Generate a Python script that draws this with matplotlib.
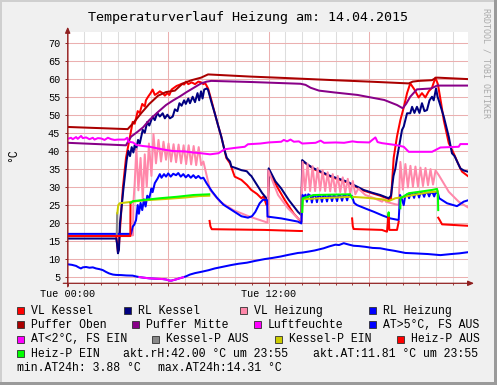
import numpy as np
import matplotlib
matplotlib.use("Agg")
import matplotlib.pyplot as plt
from matplotlib.patches import Rectangle

W, H = 497, 385
nan = np.nan

# ── data: (hour of day, °C) ──────────────────────────────────────────────────
VL_KESSEL = [(0, 16.3), (2.9, 16.3), (2.95, 14.0), (3.0, 11.8), (3.05, 13.0), (3.15, 20.0),
             (3.3, 30.0), (3.48, 38.0), (3.68, 43.0), (3.88, 48.0), (4.0, 47.5), (4.18, 51.0),
             (4.3, 50.5), (4.45, 53.0), (4.6, 52.3), (4.67, 54.0), (4.8, 55.0), (4.95, 56.0),
             (5.07, 57.0), (5.2, 55.5), (5.37, 56.0), (5.5, 56.5), (5.67, 56.0), (5.8, 55.3),
             (5.95, 56.0), (6.07, 55.5), (6.2, 57.0), (6.35, 57.5), (6.5, 58.0), (6.67, 58.3),
             (6.8, 58.6), (6.95, 58.4), (7.07, 59.2), (7.2, 58.5), (7.4, 59.0), (7.6, 58.5),
             (7.8, 59.2), (7.96, 59.0), (8.1, 58.5), (8.2, 58.8), (8.3, 58.0), (8.38, 57.3),
             (8.58, 54.0), (8.78, 50.4), (8.98, 47.0), (9.17, 43.9), (9.47, 38.0), (9.69, 36.5),
             (9.97, 32.8), (10.37, 31.9), (10.7, 30.5), (10.96, 29.1), (11.3, 28.0), (11.56, 26.8),
             (11.7, 27.3), (11.86, 25.0), (11.95, 24.9), (12.0, 34.5), (12.5, 30.0), (12.96, 26.3),
             (13.5, 22.5), (13.75, 21.2), (13.95, 20.3), (14.0, 37.2), (14.69, 34.9), (15.68, 32.8),
             (16.68, 31.2), (17.67, 28.9), (18.66, 27.5), (19.16, 26.6), (19.3, 26.7), (19.35, 30.0),
             (19.46, 38.0), (19.66, 44.0), (19.86, 48.5), (20.06, 52.0), (20.26, 56.0), (20.45, 58.7),
             (20.7, 57.0), (20.95, 54.8), (21.15, 56.0), (21.35, 54.8), (21.55, 56.5), (21.75, 57.5),
             (21.95, 60.3), (22.1, 58.5), (22.3, 53.0), (22.45, 48.5), (22.75, 42.1), (23.04, 39.3),
             (23.3, 36.5), (23.54, 34.2), (23.88, 33.0)]

RL_KESSEL = [(0, 15.6), (2.9, 15.6), (2.95, 14.0), (3.0, 11.5), (3.06, 12.5), (3.12, 19.8),
             (3.32, 29.1), (3.52, 37.4), (3.62, 40.0), (3.72, 38.5), (3.82, 41.0), (3.92, 39.5),
             (4.0, 41.6), (4.08, 40.2), (4.2, 43.0), (4.3, 42.0), (4.48, 45.8), (4.6, 45.0),
             (4.75, 48.0), (4.87, 47.0), (5.07, 49.5), (5.2, 48.5), (5.35, 50.5), (5.5, 49.5),
             (5.67, 50.4), (5.8, 49.0), (5.95, 50.0), (6.1, 49.0), (6.27, 49.5), (6.4, 51.5),
             (6.55, 51.0), (6.67, 53.2), (6.8, 52.5), (6.95, 54.0), (7.05, 53.0), (7.2, 54.5),
             (7.3, 53.2), (7.46, 55.0), (7.6, 53.5), (7.75, 56.0), (7.85, 54.0), (7.96, 56.5),
             (8.05, 54.5), (8.15, 57.0), (8.3, 57.3), (8.38, 56.9), (8.58, 53.5), (8.78, 50.4),
             (8.98, 47.0), (9.17, 43.9), (9.37, 40.0), (9.5, 38.0), (9.69, 37.0), (9.77, 35.6),
             (10.09, 35.1), (10.37, 34.6), (10.69, 34.3), (10.88, 33.3), (10.96, 33.0), (11.3, 30.5),
             (11.6, 28.3), (11.95, 26.3), (12.0, 35.1), (12.4, 31.5), (12.75, 29.5), (13.2, 26.3),
             (13.75, 23.0), (13.95, 22.1), (14.0, 37.4), (14.3, 36.2), (14.69, 35.1), (15.2, 34.0),
             (15.68, 33.0), (16.2, 32.2), (16.68, 31.4), (17.2, 30.2), (17.67, 29.1), (18.2, 28.3),
             (18.66, 27.7), (19.16, 26.8), (19.3, 27.5), (19.45, 33.0), (19.56, 35.0), (19.66, 38.0),
             (19.96, 45.8), (20.06, 46.7), (20.26, 50.4), (20.45, 50.4), (20.56, 52.2), (20.7, 50.5),
             (20.85, 52.2), (21.0, 50.5), (21.15, 53.2), (21.3, 51.0), (21.45, 51.3), (21.6, 54.0),
             (21.75, 55.0), (21.85, 54.0), (21.99, 57.3), (22.08, 55.0), (22.18, 53.6), (22.45, 49.5),
             (22.75, 43.9), (22.94, 39.3), (23.1, 38.5), (23.44, 35.1), (23.65, 34.5), (23.88, 34.2)]

VL_HEIZUNG = [(0, 16.3), (3.9, 16.5), (3.92, 25.4), (4.0, 31.0), (4.1, 40.5), (4.22, 29.0),
              (4.35, 38.0), (4.48, 26.5), (4.6, 39.0), (4.72, 30.0), (4.85, 42.0), (5.0, 33.0),
              (5.12, 44.6), (5.27, 36.5), (5.42, 43.0), (5.57, 37.0), (5.72, 42.5), (5.87, 37.5),
              (6.02, 42.0), (6.17, 37.0), (6.32, 41.8), (6.47, 36.8), (6.62, 41.7), (6.77, 36.5),
              (6.92, 41.5), (7.07, 36.3), (7.22, 41.5), (7.37, 36.2), (7.52, 41.3), (7.67, 36.0),
              (7.82, 41.0), (7.97, 36.0), (8.1, 37.0), (8.2, 35.0), (8.5, 29.1), (9.09, 25.85),
              (9.89, 23.5), (10.88, 21.65), (11.76, 20.3), (11.93, 20.0), (11.98, 34.5), (12.56, 27.7),
              (13.15, 24.0), (13.75, 21.2), (13.95, 20.7), (14.02, 36.9), (14.17, 29.0), (14.32, 36.4),
              (14.47, 28.8), (14.62, 35.7), (14.77, 28.8), (14.92, 35.2), (15.07, 28.9), (15.22, 34.6),
              (15.37, 28.8), (15.52, 34.0), (15.67, 28.7), (15.82, 33.5), (15.97, 28.6), (16.12, 33.0),
              (16.27, 28.5), (16.42, 32.6), (16.57, 28.3), (16.72, 32.2), (16.87, 28.1), (17.02, 31.6),
              (17.17, 27.9), (17.35, 29.5), (17.77, 27.7), (18.3, 26.8), (18.77, 25.85), (18.9, 26.6),
              (19.0, 25.8), (19.5, 25.2), (19.76, 24.9), (19.86, 36.9), (20.01, 29.2), (20.16, 36.3),
              (20.31, 29.8), (20.46, 35.8), (20.61, 30.0), (20.76, 35.6), (20.91, 30.1), (21.06, 35.3),
              (21.21, 30.2), (21.36, 35.2), (21.51, 30.4), (21.66, 34.9), (21.81, 30.6), (21.96, 34.5),
              (22.15, 33.25), (22.75, 28.6), (23.34, 25.85), (23.88, 24.3)]

RL_HEIZUNG = [(0, 16.9), (3.78, 16.9), (3.88, 18.9), (3.98, 19.5), (4.08, 20.75), (4.18, 24.9),
              (4.25, 22.5), (4.35, 25.5), (4.45, 23.5), (4.55, 26.5), (4.65, 24.5), (4.75, 27.5),
              (4.87, 26.8), (5.0, 29.5), (5.07, 28.5), (5.2, 31.0), (5.37, 32.3), (5.5, 33.5),
              (5.6, 32.5), (5.75, 33.5), (5.87, 32.8), (6.0, 33.7), (6.15, 32.8), (6.3, 33.6),
              (6.47, 33.2), (6.6, 33.8), (6.75, 32.8), (6.9, 33.5), (7.05, 32.6), (7.2, 33.3),
              (7.35, 32.5), (7.5, 33.2), (7.65, 32.4), (7.8, 33.0), (7.95, 32.3), (8.1, 32.5),
              (8.3, 30.9), (8.6, 28.8), (8.9, 27.0), (9.3, 25.0), (9.7, 23.8), (10.37, 21.8),
              (10.76, 21.4), (11.0, 21.8), (11.2, 23.0), (11.46, 25.4), (11.66, 26.4), (11.9, 26.3),
              (11.93, 21.7), (12.75, 21.2), (13.75, 20.3), (13.95, 19.8), (14.02, 27.7), (14.1, 27.3),
              (14.2, 27.8), (14.28, 25.8), (14.36, 27.9), (14.5, 27.5), (14.58, 25.6), (14.66, 27.6),
              (14.8, 27.4), (14.88, 25.7), (14.96, 27.6), (15.1, 27.3), (15.18, 25.8), (15.26, 27.6),
              (15.4, 27.4), (15.48, 25.9), (15.56, 27.5), (15.7, 27.4), (15.78, 26.0), (15.86, 27.5),
              (16.0, 27.3), (16.08, 26.0), (16.16, 27.6), (16.3, 27.4), (16.38, 26.1), (16.46, 27.6),
              (16.6, 27.5), (16.68, 26.2), (16.76, 27.6), (16.97, 27.4), (17.1, 25.5), (17.27, 24.9),
              (17.8, 23.9), (18.27, 23.05), (18.8, 22.0), (19.26, 21.2), (19.76, 20.75), (19.84, 27.7),
              (19.95, 26.5), (20.06, 24.9), (20.15, 27.5), (20.3, 28.0), (20.38, 26.8), (20.46, 28.2),
              (20.6, 28.0), (20.68, 26.9), (20.76, 28.3), (20.9, 28.1), (20.98, 27.0), (21.06, 28.3),
              (21.2, 28.1), (21.28, 27.2), (21.36, 28.4), (21.5, 28.2), (21.58, 27.3), (21.66, 28.4),
              (21.8, 28.2), (21.88, 27.3), (21.96, 28.4), (22.1, 28.2), (22.18, 26.8), (22.65, 25.4),
              (23.24, 24.6), (23.64, 25.85), (23.88, 26.2)]

PUFFER_OBEN = [(0, 46.6), (3.58, 46.0), (3.72, 46.7), (3.9, 47.6), (4.4, 50.5), (4.87, 53.0),
               (5.4, 55.3), (5.87, 56.3), (6.4, 56.7), (6.87, 58.7), (7.4, 59.6), (7.96, 60.3),
               (8.38, 61.2), (10.9, 60.6), (13.0, 60.2), (15.9, 59.6), (18.0, 59.2), (20.36, 58.7),
               (20.6, 59.2), (20.95, 59.4), (21.75, 59.6), (22.0, 60.3), (22.1, 60.3), (23.88, 59.9)]

PUFFER_MITTE = [(0, 42.2), (3.48, 41.5), (3.6, 42.5), (3.78, 43.9), (4.18, 45.3), (4.5, 46.5),
                (4.87, 48.5), (5.4, 50.8), (5.87, 52.7), (6.3, 54.0), (6.67, 55.0), (7.1, 56.3),
                (7.46, 57.3), (7.96, 58.7), (8.3, 59.2), (8.57, 59.4), (10.9, 59.1), (13.9, 58.6),
                (14.2, 58.3), (14.5, 57.5), (15.0, 56.7), (15.9, 56.2), (17.3, 55.5), (18.9, 54.1),
                (19.66, 52.7), (20.0, 51.8), (20.2, 53.0), (20.45, 55.0), (20.85, 57.05), (21.7, 57.3),
                (22.05, 58.1), (23.88, 58.1)]

LUFTFEUCHTE = [(0, 43.3), (0.2, 43.6), (0.3, 43.2), (0.5, 43.8), (0.6, 43.3), (0.8, 44.1),
               (0.9, 43.5), (1.1, 43.7), (1.3, 43.2), (1.5, 43.6), (1.6, 43.1), (1.8, 43.5),
               (2.0, 43.4), (2.2, 43.0), (2.4, 43.6), (2.6, 43.2), (2.8, 43.0), (3.0, 43.1),
               (3.4, 43.1), (3.55, 43.6), (3.62, 42.5), (3.9, 42.3), (4.1, 41.6), (4.5, 41.3),
               (4.9, 41.1), (5.3, 40.7), (5.87, 40.2), (6.3, 39.9), (7.0, 39.8), (7.5, 39.5),
               (7.96, 39.3), (8.5, 39.0), (9.0, 39.3), (9.37, 40.4), (10.0, 40.8), (10.57, 41.1),
               (10.76, 41.8), (11.5, 42.0), (12.0, 42.3), (12.75, 42.5), (12.9, 43.0), (13.1, 42.6),
               (13.3, 43.1), (13.5, 42.5), (13.8, 42.6), (14.0, 42.0), (14.8, 42.2), (15.1, 42.8),
               (15.3, 42.2), (16.0, 42.3), (16.5, 42.2), (17.0, 42.6), (17.3, 42.4), (18.0, 42.3),
               (18.37, 43.7), (18.5, 42.4), (18.77, 42.1), (19.56, 41.6), (20.06, 41.1), (20.36, 39.7),
               (21.75, 39.7), (22.25, 40.9), (23.34, 41.1), (23.44, 41.85), (23.88, 41.85)]

AUSSEN = [(0, 8.45), (0.25, 8.3), (0.5, 8.0), (0.65, 7.6), (0.79, 7.3), (0.9, 7.6), (1.1, 7.7),
          (1.3, 7.5), (1.5, 7.6), (1.69, 7.3), (1.9, 7.1), (2.09, 6.85), (2.3, 6.3), (2.48, 5.9),
          (2.7, 5.6), (2.88, 5.5), (3.2, 5.45), (3.5, 5.35), (3.88, 5.3), (4.1, 5.05), (4.28, 4.9),
          (4.5, 4.75), (4.87, 4.55), (5.2, 4.45), (5.67, 4.35), (5.9, 4.2), (6.05, 3.95), (6.17, 3.88),
          (6.3, 4.05), (6.5, 4.3), (6.67, 4.55), (6.9, 4.85), (7.06, 5.1), (7.3, 5.6), (7.6, 6.0),
          (8.02, 6.4), (8.4, 6.8), (8.78, 7.3), (9.2, 7.7), (9.77, 8.25), (10.2, 8.6), (10.7, 8.9),
          (11.2, 9.4), (11.76, 9.9), (12.2, 10.2), (12.7, 10.6), (13.2, 11.1), (13.75, 11.6),
          (14.0, 11.7), (14.4, 12.0), (14.75, 12.3), (15.28, 12.9), (15.6, 13.4), (15.98, 13.9),
          (16.2, 13.8), (16.48, 14.31), (16.8, 13.9), (17.07, 13.6), (17.4, 13.5), (17.77, 13.3),
          (18.2, 13.0), (18.66, 12.9), (19.1, 12.5), (19.5, 12.2), (20.16, 11.6), (20.66, 11.5),
          (21.5, 11.3), (22.25, 11.0), (22.9, 11.3), (23.4, 11.5), (23.88, 11.8)]
AT_COLD_LIMIT = 5.0

KESSEL_P_AUS = [(2.93, 16.9), (2.95, 22.6)]
KESSEL_P_EIN = [(2.96, 22.6), (3.02, 24.9), (3.1, 25.4), (3.88, 25.85), (4.5, 26.2), (5.87, 26.6),
                (7.0, 27.0), (7.86, 27.4), (8.45, 27.5), (nan, nan), (14.0, 23.0), (14.03, 26.5),
                (15.0, 26.8), (16.0, 27.0), (16.97, 27.2), (17.77, 26.95), (18.77, 26.5), (19.16, 26.0),
                (19.56, 26.8), (19.86, 27.0), (20.5, 27.6), (21.5, 28.4), (22.1, 28.7)]
HEIZ_P_AUS = [(0, 16.3), (3.74, 16.3), (3.75, 25.5), (nan, nan), (8.47, 20.5), (8.52, 19.0),
              (8.6, 18.2), (11.76, 18.0), (13.85, 17.7), (13.98, 17.7), (nan, nan), (16.98, 21.2),
              (17.02, 19.0), (17.07, 18.25), (18.76, 18.0), (19.06, 17.5), (19.13, 21.0), (19.16, 22.5),
              (19.2, 18.0), (19.32, 18.0), (19.66, 18.0), (19.76, 20.3), (nan, nan), (22.12, 21.4),
              (22.15, 21.2), (22.35, 19.55), (23.88, 19.15)]
HEIZ_P_EIN = [(3.75, 25.5), (3.9, 26.0), (4.5, 26.3), (5.5, 26.8), (6.5, 27.2), (7.5, 27.7),
              (8.45, 27.9), (nan, nan), (14.0, 23.0), (14.03, 26.8), (14.69, 27.7), (15.7, 27.8),
              (16.87, 27.9), (16.97, 26.8), (nan, nan), (19.14, 22.0), (19.16, 22.9), (19.18, 22.0),
              (nan, nan), (19.86, 24.0), (19.87, 26.8), (20.36, 28.2), (21.0, 28.6), (21.75, 29.1),
              (22.05, 29.4), (22.1, 28.0), (22.12, 23.5)]

AKT_RH, AKT_AT = 42.00, 11.81
MIN_AT, MAX_AT = 3.88, 14.31

X_TICKS = [0, 12]
X_LABELS = ["Tue 00:00", "Tue 12:00"]

LEGEND_LABELS = ["VL Kessel", "RL Kessel", "VL Heizung", "RL Heizung",
                 "Puffer Oben", "Puffer Mitte", "Luftfeuchte", "AT>5°C, FS AUS",
                 "AT<2°C, FS EIN", "Kessel-P AUS", "Kessel-P EIN", "Heiz-P AUS",
                 "Heiz-P EIN"]
LEGEND_COLORS = ["#FF0000", "#000080", "#FF88AA", "#0000FF",
                 "#AA0000", "#880088", "#FF00FF", "#0000FF",
                 "#FF00FF", "#888888", "#CCCC00", "#FF0000",
                 "#00FF00"]
# ─────────────────────────────────────────────────────────────────────────────

BG = "#F0F0F0"
AXC = "#902020"
MONO = ["Liberation Mono", "DejaVu Sans Mono"]
plt.rcParams["font.family"] = MONO


def xy(pairs):
    a = np.array(pairs, dtype=float)
    return a[:, 0], a[:, 1]


def fx(x):
    return x / W


def fy(y):
    return 1 - y / H


def rect_px(x, y, w, h, **kw):
    fig.add_artist(Rectangle((fx(x), fy(y + h)), w / W, h / H,
                             transform=fig.transFigure, **kw))


fig = plt.figure(figsize=(W / 100, H / 100), dpi=100, facecolor=BG)
ax = fig.add_axes([fx(67.7), fy(283.3), 400 / W, 251 / H])
ax.set_facecolor("white")

LW = 1.45
series = [VL_KESSEL, RL_KESSEL, VL_HEIZUNG, RL_HEIZUNG, PUFFER_OBEN, PUFFER_MITTE, LUFTFEUCHTE]
for data, col in zip(series, LEGEND_COLORS[:7]):
    t, v = xy(data)
    ax.plot(t, v, color=col, lw=LW)

# outside temperature: blue normally, magenta when cold
t, v = xy(AUSSEN)
ax.plot(t, v, color=LEGEND_COLORS[7], lw=LW)
ax.plot(t, np.where(v < AT_COLD_LIMIT, v, nan), color=LEGEND_COLORS[8], lw=LW)

for data, col in zip([KESSEL_P_AUS, KESSEL_P_EIN, HEIZ_P_AUS, HEIZ_P_EIN], LEGEND_COLORS[9:]):
    t, v = xy(data)
    ax.plot(t, v, color=col, lw=LW)

ax.set_xlim(0, 23.88)
ax.set_ylim(3.17, 72.9)
ax.set_xticks([0, 6, 12, 18])
ax.set_xticklabels([X_LABELS[0], "", X_LABELS[1], ""])
ax.set_xticks(np.arange(0, 24, 1), minor=True)
ax.set_yticks(np.arange(5, 71, 5))
ax.set_axisbelow(True)
ax.grid(which="major", color="#EBB0B0", lw=0.75)
ax.grid(which="minor", axis="x", color="#DDDDDD", lw=0.75)
for s in ax.spines.values():
    s.set_visible(False)
ax.tick_params(which="major", length=2.2, width=0.7, color=AXC, labelsize=7.3, pad=3.2)
ax.tick_params(which="minor", length=1.2, width=0.6, color=AXC)
ax.tick_params(axis="x", pad=2.2)

arrow = dict(arrowstyle="-|>,head_length=0.35,head_width=0.15", color=AXC, lw=0.9,
             shrinkA=0, shrinkB=0)
ax.annotate("", xy=(0, 1.022), xytext=(0, -0.014), xycoords="axes fraction",
            arrowprops=arrow, annotation_clip=False)
ax.annotate("", xy=(1.016, 0), xytext=(-0.011, 0), xycoords="axes fraction",
            arrowprops=arrow, annotation_clip=False)

# texts
fig.text(fx(248), fy(20.7), "Temperaturverlauf Heizung am: 14.04.2015",
         family="DejaVu Sans Mono", fontsize=9.6, ha="center", va="baseline")
fig.text(fx(13.5), fy(155), "°C", rotation=90, fontsize=8.3, ha="center", va="center")
fig.text(fx(486), fy(8), "RRDTOOL / TOBI OETIKER", rotation=270, fontsize=6,
         family="DejaVu Sans Mono", color="#AAAAAA", ha="center", va="top")

# legend
box_pos = [(17, 0), (124, 0), (240, 0), (369, 0), (17, 1), (132, 1), (254, 1), (369, 1),
           (17, 2), (152, 2), (275, 2), (397, 2), (17, 3)]
base = [314.3 + 14.1 * i for i in range(5)]
for lab, col, (bx, r) in zip(LEGEND_LABELS, LEGEND_COLORS, box_pos):
    rect_px(bx, base[r] - 7, 7, 7, facecolor=col, edgecolor="#303030", lw=0.6)
    fig.text(fx(bx + 13.7), fy(base[r]), lab, fontsize=8.3, va="baseline")

fig.text(fx(123), fy(base[3]), f"akt.rH:{AKT_RH:.2f} °C um 23:55", fontsize=8.3, va="baseline")
fig.text(fx(313), fy(base[3]), f"akt.AT:{AKT_AT:.2f} °C um 23:55", fontsize=8.3, va="baseline")
fig.text(fx(17), fy(base[4]), f"min.AT24h:{MIN_AT:5.2f} °C", fontsize=8.3, va="baseline")
fig.text(fx(158), fy(base[4]), f"max.AT24h:{MAX_AT:5.2f} °C", fontsize=8.3, va="baseline")

# 3d-ish frame
rect_px(0, 0, W, 2, facecolor="#CFCFCF", lw=0)
rect_px(0, 0, 2, H, facecolor="#CFCFCF", lw=0)
rect_px(W - 3, 0, 3, H, facecolor="#9A9A9A", lw=0)
rect_px(0, H - 3, W, 3, facecolor="#9A9A9A", lw=0)

fig.savefig("out.png", dpi=100, facecolor=BG)
